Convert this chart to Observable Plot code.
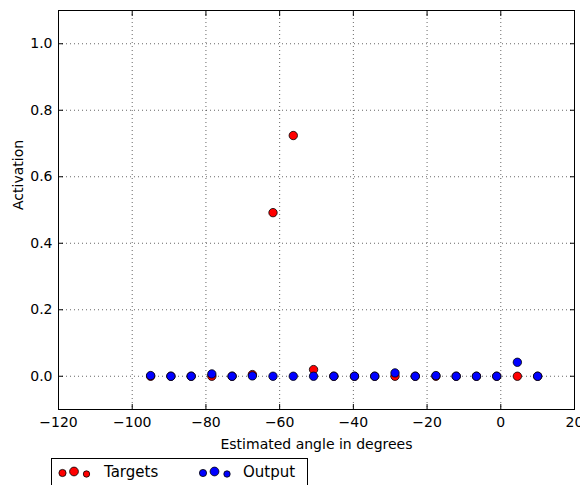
<!DOCTYPE html>
<html><head><meta charset="utf-8">
<script src="https://cdn.jsdelivr.net/npm/d3@7"></script>
<script src="https://cdn.jsdelivr.net/npm/@observablehq/plot@0.6"></script>
<style>
body{margin:0;background:#fff;font-family:"DejaVu Sans",sans-serif;}
#wrap{position:relative;width:580px;height:485px;overflow:hidden;}
#legend{position:absolute;left:51px;top:458px;width:255px;height:40px;border:1px solid #000;background:#fff;font-size:15px;}
#legend span{position:absolute;top:4px;}
</style></head>
<body><div id="wrap"><div id="chart"></div>
<div id="legend">
<svg width="255" height="30" style="position:absolute;left:0;top:0">
<circle cx="10.5" cy="14" r="3.6" fill="#ff0000" stroke="#000" stroke-width="0.8"/>
<circle cx="22" cy="12.5" r="4.4" fill="#ff0000" stroke="#000" stroke-width="0.8"/>
<circle cx="34.5" cy="15" r="3.2" fill="#ff0000" stroke="#000" stroke-width="0.8"/>
<circle cx="151" cy="14" r="3.6" fill="#0000ff" stroke="#000" stroke-width="0.8"/>
<circle cx="162.5" cy="12.5" r="4.4" fill="#0000ff" stroke="#000" stroke-width="0.8"/>
<circle cx="175" cy="15" r="3.2" fill="#0000ff" stroke="#000" stroke-width="0.8"/>
</svg>
<span style="left:52px">Targets</span>
<span style="left:191px">Output</span>
</div></div>
<script>
const angles = [-95, -89.5, -84, -78.4, -72.9, -67.4, -61.8, -56.3, -50.8, -45.3, -39.7, -34.2, -28.7, -23.2, -17.6, -12.1, -6.6, -1.1, 4.5, 10];
const targets = [0, 0, 0, 0, 0, 0.005, 0.492, 0.724, 0.02, 0, 0, 0, 0, 0, 0, 0, 0, 0, 0, 0];
const outputs = [0.002, 0, 0, 0.007, 0, 0.001, 0, 0, 0, 0, 0, 0, 0.01, 0, 0.002, 0, 0, 0, 0.042, 0];
const xTicks = [-120, -100, -80, -60, -40, -20, 0, 20];
const yTicks = [0.0, 0.2, 0.4, 0.6, 0.8, 1.0];

const tData = angles.map((a, i) => ({x: a, y: targets[i]}));
const oData = angles.map((a, i) => ({x: a, y: outputs[i]}));
const fmtX = d => d < 0 ? "\u2212" + Math.abs(d) : String(d);
const fmtY = d => d.toFixed(1);

const chart = Plot.plot({
  width: 580, height: 485,
  marginLeft: 58, marginRight: 6, marginTop: 10, marginBottom: 76,
  style: {fontFamily: "DejaVu Sans, sans-serif", fontSize: "14px", color: "#000", background: "#fff"},
  x: {domain: [-120, 20], ticks: xTicks},
  y: {domain: [-0.1, 1.1], ticks: yTicks},
  marks: [
    Plot.gridX(xTicks.slice(1, -1), {stroke: "#000", strokeOpacity: 0.6, strokeDasharray: "1,3"}),
    Plot.gridY(yTicks, {stroke: "#000", strokeOpacity: 0.6, strokeDasharray: "1,3"}),
    Plot.axisX(xTicks, {anchor: "bottom", tickSize: -5, tickPadding: 13, tickFormat: fmtX, fontSize: 14, label: null}),
    Plot.axisX(xTicks, {anchor: "top", tickSize: -5, tickFormat: () => "", label: null}),
    Plot.axisY(yTicks, {anchor: "left", tickSize: -5, tickPadding: 11, tickFormat: fmtY, fontSize: 14, label: null}),
    Plot.axisY(yTicks, {anchor: "right", tickSize: -5, tickFormat: () => "", label: null}),
    Plot.frame({stroke: "#000", strokeWidth: 1}),
    Plot.dot(tData, {x: "x", y: "y", r: 4.2, fill: "#ff0000", stroke: "#000", strokeWidth: 0.8}),
    Plot.dot(oData, {x: "x", y: "y", r: 4.2, fill: "#0000ff", stroke: "#000", strokeWidth: 0.8}),
    Plot.text(["Estimated angle in degrees"], {frameAnchor: "bottom", dy: 39, fontSize: 14}),
    Plot.text(["Activation"], {frameAnchor: "left", dx: -40, rotate: -90, fontSize: 14})
  ]
});
document.getElementById("chart").appendChild(chart);
</script>
</body></html>
